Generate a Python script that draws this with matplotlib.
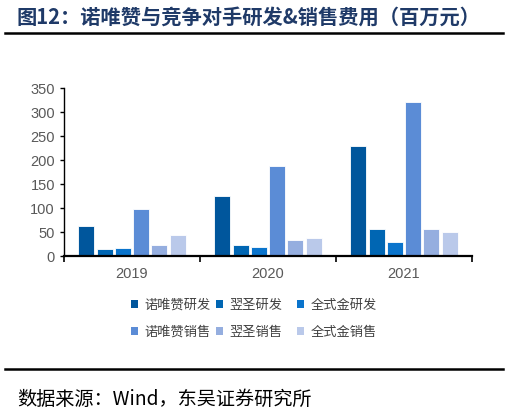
import matplotlib.pyplot as plt
from matplotlib.patches import Patch
import numpy as np

plt.rcParams['font.family'] = ['Noto Sans CJK SC', 'DejaVu Sans']

# Data (millions of yuan)
years = ['2019', '2020', '2021']
series = ['诺唯赞研发', '翌圣研发', '全式金研发', '诺唯赞销售', '翌圣销售', '全式金销售']
vals_nwz_rd = [62, 126, 230]
vals_ys_rd = [15, 23, 57]
vals_qsj_rd = [17, 19, 29]
vals_nwz_sales = [97, 188, 320]
vals_ys_sales = [22, 33, 56]
vals_qsj_sales = [44, 38, 49]
colors = ['#00569C', '#0066B3', '#0A74CC', '#5B8CD6', '#95AEDF', '#BAC9EA']

all_vals = [vals_nwz_rd, vals_ys_rd, vals_qsj_rd, vals_nwz_sales, vals_ys_sales, vals_qsj_sales]

fig = plt.figure(figsize=(5.09, 4.16), dpi=100)

# background layer for the title rules
bg = fig.add_axes([0, 0, 1, 1], zorder=-1)
bg.set_xlim(0, 509)
bg.set_ylim(416, 0)
bg.axis('off')
bg.plot([5, 503], [33, 33], color='black', lw=1.8)
bg.plot([5, 503], [369, 369], color='black', lw=1.8)

ax = fig.add_axes([64 / 509, 1 - 256 / 416, 408 / 509, 168 / 416])
ax.patch.set_alpha(0)

x = np.arange(len(years))
step = 0.134
for i, (vals, c) in enumerate(zip(all_vals, colors)):
    ax.bar(x + (i - 2.5) * step, vals, width=0.118, color=c,
           edgecolor='white', linewidth=0.6, label=series[i], zorder=2)

ax.set_xlim(-0.5, 2.5)
ax.set_ylim(0, 350)
ax.set_yticks(range(0, 351, 50))
ax.set_xticks(x)
ax.set_xticklabels(years)
ax.set_xticks([-0.5, 0.5, 1.5, 2.5], minor=True)
ax.tick_params(axis='x', which='major', length=0, pad=8)
ax.tick_params(axis='x', which='minor', length=4, width=1.2, direction='out', color='black')
ax.tick_params(axis='y', length=3, width=1, direction='out', color='black')
for lab in ax.get_xticklabels() + ax.get_yticklabels():
    lab.set_fontfamily('Liberation Sans')
    lab.set_fontsize(10.5)
    lab.set_color('#595959')
ax.spines['top'].set_visible(False)
ax.spines['right'].set_visible(False)
ax.spines['left'].set_linewidth(1.0)
ax.spines['bottom'].set_linewidth(1.6)

# legend: three columns, two rows
col_x = [131 / 509, 216 / 509, 297 / 509]
for j in range(3):
    handles = [Patch(facecolor=colors[j]), Patch(facecolor=colors[j + 3])]
    labels = [series[j], series[j + 3]]
    fig.legend(handles, labels, loc='upper left', bbox_to_anchor=(col_x[j], 1 - 299 / 416),
               frameon=False, fontsize=9.5, handlelength=0.55, handleheight=0.55,
               handletextpad=0.45, labelspacing=1.05, borderpad=0, borderaxespad=0,
               labelcolor='#404040')

# title and source
fig.text(17 / 509, 1 - 17 / 416, '图12：诺唯赞与竞争对手研发&销售费用（百万元）',
         fontsize=14.6, fontweight='bold', color='#1F3A68', va='center', ha='left')
fig.text(17 / 509, 1 - 399 / 416, '数据来源：Wind，东吴证券研究所', fontsize=13.8,
         color='black', va='center', ha='left')

fig.savefig('out.png', dpi=100)
